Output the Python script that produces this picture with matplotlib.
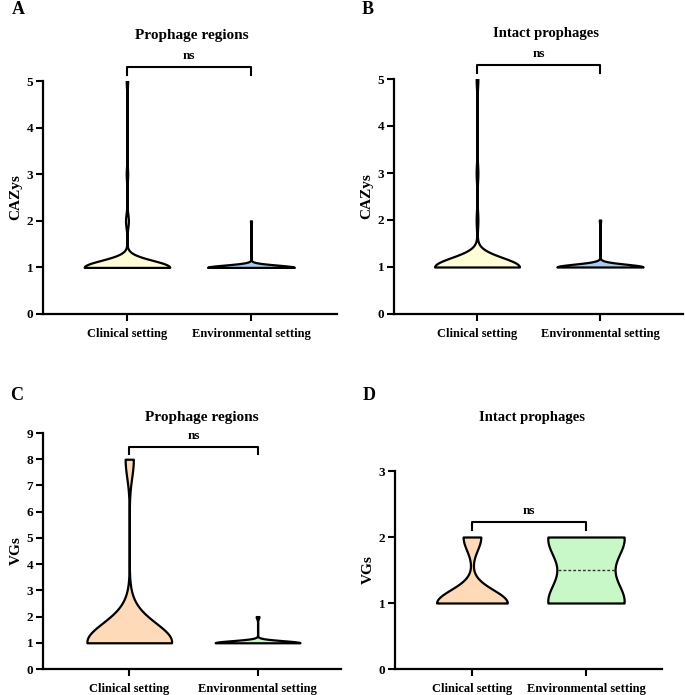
import numpy as np
import matplotlib
matplotlib.use("Agg")
import matplotlib.pyplot as plt

groups = ["Clinical setting", "Environmental setting"]

cazy_region_vals = [1, 2, 3, 4, 5]
cazy_region_clin = [60, 2, 1, 0, 1]
cazy_region_env = [80, 1, 0, 0, 0]

cazy_intact_vals = [1, 2, 3, 4, 5]
cazy_intact_clin = [50, 1, 1, 0, 1]
cazy_intact_env = [60, 1, 0, 0, 0]

vg_region_vals = [1, 2, 3, 4, 5, 6, 7, 8]
vg_region_clin = [20, 2, 0, 0, 0, 0, 0, 2]
vg_region_env = [30, 1, 0, 0, 0, 0, 0, 0]

vg_intact_vals = [1, 2]
vg_intact_clin = [12, 3]
vg_intact_env = [5, 5]

plt.rcParams['font.family'] = ['Liberation Serif', 'DejaVu Serif']
plt.rcParams['font.weight'] = 'bold'

fig = plt.figure(figsize=(6.85, 6.95), dpi=100)
W, H = 685.0, 695.0


def axes_px(x0, x1, ytop, ybot):
    return fig.add_axes([x0 / W, 1 - ybot / H, (x1 - x0) / W, (ybot - ytop) / H])


def violin(ax, vals, counts, pos, sigma, color, width):
    data = np.repeat(vals, counts).astype(float)
    bw = sigma / np.std(data, ddof=1)
    parts = ax.violinplot([data], positions=[pos], widths=width, bw_method=bw,
                          showextrema=False, points=400)
    body = parts['bodies'][0]
    body.set_facecolor(color)
    body.set_edgecolor('black')
    body.set_linewidth(1.6)
    body.set_alpha(1)
    med = np.median(data)
    if data.min() < med < data.max():
        ln = ax.hlines(med, pos - 0.5, pos + 0.5, colors='#333333',
                       linestyles=(0, (2, 1.5)), linewidth=1)
        ln.set_clip_path(body.get_paths()[0], ax.transData)


def style(ax, ymax, ylabel, xlim):
    ax.set_ylim(0, ymax)
    ax.set_xlim(*xlim)
    ax.set_yticks(range(0, ymax + 1))
    ax.set_xticks([1, 2])
    ax.set_xticklabels(groups)
    for s in ['top', 'right']:
        ax.spines[s].set_visible(False)
    for s in ['left', 'bottom']:
        ax.spines[s].set_linewidth(1.6)
    ax.tick_params(direction='out', length=5, width=1.5, labelsize=9.5)
    ax.tick_params(axis='x', pad=5, labelsize=9)
    ax.tick_params(axis='y', pad=2)
    for lab in ax.get_xticklabels() + ax.get_yticklabels():
        lab.set_fontweight('bold')
    ax.set_ylabel(ylabel, fontsize=11, fontweight='bold', labelpad=3)


def bracket(ax, y, leg):
    ax.plot([1, 1, 2, 2], [y - leg, y, y, y - leg], color='black', lw=1.5,
            clip_on=False)
    ax.text(1.5, y + leg * 0.6, 'ns', ha='center', va='bottom', fontsize=9.5,
            fontweight='bold')


yellow = '#FFFDD6'
blue = '#A8CCF0'
peach = '#FFDAB9'
green = '#C8F8C8'

# A
axA = axes_px(43, 337, 81, 314)
violin(axA, cazy_region_vals, cazy_region_clin, 1, 0.15, yellow, 0.69)
violin(axA, cazy_region_vals, cazy_region_env, 2, 0.05, blue, 0.70)
style(axA, 5, 'CAZys', (0.323, 2.694))
bracket(axA, 5.30, 0.17)

# B
axB = axes_px(394, 683, 79, 314)
violin(axB, cazy_intact_vals, cazy_intact_clin, 1, 0.2, yellow, 0.69)
violin(axB, cazy_intact_vals, cazy_intact_env, 2, 0.06, blue, 0.70)
style(axB, 5, 'CAZys', (0.325, 2.675))
bracket(axB, 5.30, 0.17)

# C
axC = axes_px(43, 341, 433, 669)
violin(axC, vg_region_vals, vg_region_clin, 1, 0.7, peach, 0.66)
violin(axC, vg_region_vals, vg_region_env, 2, 0.08, green, 0.66)
style(axC, 9, 'VGs', (0.328, 2.65))
bracket(axC, 8.47, 0.28)

# D
axD = axes_px(395, 662, 471, 669)
violin(axD, vg_intact_vals, vg_intact_clin, 1, 0.2, peach, 0.62)
violin(axD, vg_intact_vals, vg_intact_env, 2, 0.365, green, 0.67)
style(axD, 3, 'VGs', (0.325, 2.667))
bracket(axD, 2.23, 0.13)

# titles and panel letters
fig.text(192 / W, 1 - 35 / H, 'Prophage regions', ha='center', va='center',
         fontsize=11, fontweight='bold')
fig.text(546 / W, 1 - 33 / H, 'Intact prophages', ha='center', va='center',
         fontsize=10.5, fontweight='bold')
fig.text(202 / W, 1 - 418 / H, 'Prophage regions', ha='center', va='center',
         fontsize=11, fontweight='bold')
fig.text(532 / W, 1 - 418 / H, 'Intact prophages', ha='center', va='center',
         fontsize=10.5, fontweight='bold')

for letter, x, y in [('A', 18, 10), ('B', 368, 10), ('C', 17, 395), ('D', 369, 395)]:
    fig.text(x / W, 1 - y / H, letter, ha='center', va='center', fontsize=13,
             fontweight='bold')

fig.savefig('out.png', dpi=100)
